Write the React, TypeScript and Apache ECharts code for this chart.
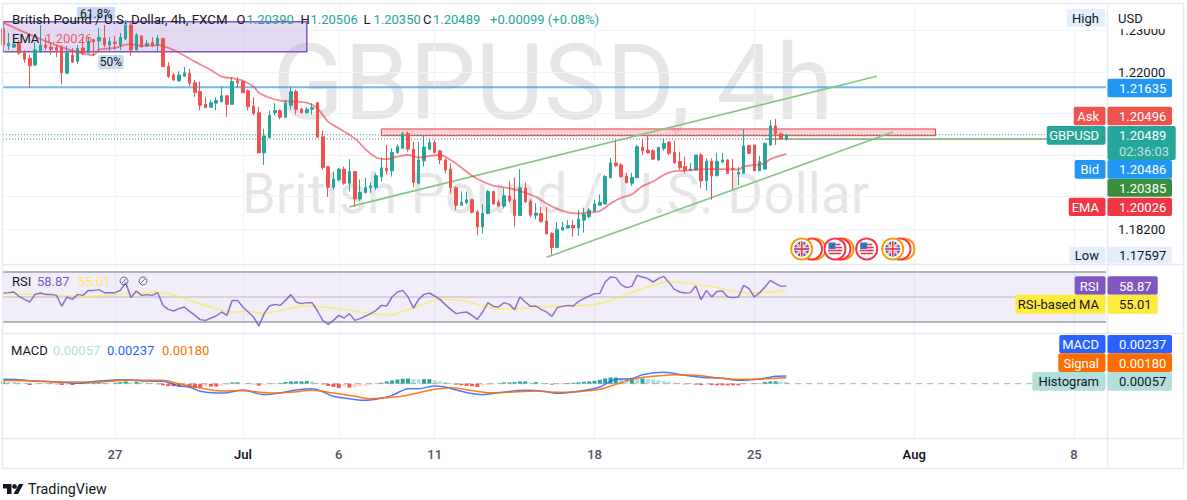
import React, { useEffect, useRef } from "react";
import * as echarts from "echarts";

// ---- data ----
// each candle: [open, close, low, high]
const candles: number[][] = [
[1.2305,1.2265,1.2248,1.2321],[1.2263,1.2269,1.2253,1.2294],[1.2260,1.2267,1.2258,1.2275],[1.2272,1.2246,1.2241,1.2277],
[1.2246,1.2231,1.2222,1.2253],[1.2233,1.2215,1.2161,1.2241],[1.2217,1.2253,1.2214,1.2272],[1.2248,1.2265,1.2246,1.2313],
[1.2265,1.2259,1.2253,1.2284],[1.2260,1.2255,1.2241,1.2272],[1.2259,1.2253,1.2236,1.2265],[1.2258,1.2198,1.2170,1.2265],
[1.2197,1.2246,1.2195,1.2263],[1.2241,1.2224,1.2222,1.2258],[1.2226,1.2257,1.2219,1.2265],[1.2258,1.2246,1.2241,1.2284],
[1.2246,1.2273,1.2246,1.2284],[1.2278,1.2273,1.2239,1.2280],[1.2275,1.2283,1.2248,1.2306],[1.2282,1.2265,1.2260,1.2313],
[1.2265,1.2273,1.2248,1.2284],[1.2272,1.2269,1.2253,1.2287],[1.2265,1.2283,1.2253,1.2294],[1.2280,1.2313,1.2277,1.2325],
[1.2313,1.2253,1.2239,1.2321],[1.2253,1.2289,1.2253,1.2294],[1.2287,1.2261,1.2259,1.2289],[1.2263,1.2269,1.2260,1.2277],
[1.2271,1.2263,1.2260,1.2284],[1.2265,1.2281,1.2248,1.2289],[1.2281,1.2213,1.2212,1.2282],[1.2214,1.2189,1.2186,1.2224],
[1.2193,1.2181,1.2178,1.2198],[1.2179,1.2193,1.2176,1.2202],[1.2190,1.2198,1.2189,1.2212],[1.2197,1.2173,1.2166,1.2207],
[1.2174,1.2151,1.2140,1.2181],[1.2153,1.2120,1.2108,1.2177],[1.2122,1.2114,1.2114,1.2139],[1.2115,1.2126,1.2114,1.2133],
[1.2125,1.2131,1.2108,1.2139],[1.2128,1.2143,1.2128,1.2165],[1.2143,1.2122,1.2092,1.2143],[1.2122,1.2177,1.2122,1.2187],
[1.2179,1.2174,1.2163,1.2187],[1.2177,1.2150,1.2149,1.2179],[1.2155,1.2116,1.2108,1.2158],[1.2118,1.2100,1.2096,1.2139],
[1.2102,1.2005,1.2005,1.2116],[1.2005,1.2046,1.1976,1.2063],[1.2042,1.2095,1.2040,1.2107],[1.2102,1.2107,1.2096,1.2125],
[1.2107,1.2091,1.2086,1.2110],[1.2091,1.2125,1.2091,1.2133],[1.2120,1.2153,1.2110,1.2165],[1.2153,1.2110,1.2098,1.2158],
[1.2111,1.2102,1.2099,1.2114],[1.2102,1.2110,1.2099,1.2116],[1.2110,1.2114,1.2098,1.2125],[1.2126,1.2043,1.2042,1.2128],
[1.2044,1.1970,1.1964,1.2059],[1.1972,1.1922,1.1899,1.1973],[1.1922,1.1942,1.1916,1.1960],[1.1940,1.1966,1.1936,1.1968],
[1.1966,1.1932,1.1928,1.1972],[1.1932,1.1960,1.1912,1.1990],[1.1960,1.1894,1.1875,1.1960],[1.1894,1.1910,1.1889,1.1941],
[1.1909,1.1922,1.1908,1.1945],[1.1921,1.1926,1.1908,1.1934],[1.1922,1.1950,1.1916,1.1956],[1.1948,1.1969,1.1936,1.1994],
[1.1968,1.1962,1.1953,1.2024],[1.1962,1.2006,1.1948,1.2016],[1.2005,1.2020,1.2004,1.2026],[1.2016,1.2052,1.2016,1.2056],
[1.2052,1.2014,1.2008,1.2056],[1.2014,1.1934,1.1922,1.2032],[1.1932,1.1988,1.1929,1.2032],[1.1986,1.2019,1.1972,1.2048],
[1.2014,1.2030,1.2012,1.2040],[1.2030,1.2006,1.2004,1.2036],[1.2010,1.1988,1.1978,1.2012],[1.1988,1.1964,1.1956,1.1992],
[1.1966,1.1921,1.1908,1.1980],[1.1921,1.1879,1.1867,1.1924],[1.1879,1.1886,1.1879,1.1912],[1.1885,1.1892,1.1881,1.1912],
[1.1892,1.1862,1.1859,1.1894],[1.1863,1.1827,1.1807,1.1867],[1.1827,1.1859,1.1811,1.1881],[1.1859,1.1912,1.1857,1.1916],
[1.1912,1.1882,1.1881,1.1914],[1.1886,1.1877,1.1874,1.1892],[1.1877,1.1902,1.1871,1.1920],[1.1901,1.1890,1.1884,1.1937],
[1.1892,1.1854,1.1827,1.1946],[1.1854,1.1921,1.1854,1.1966],[1.1920,1.1887,1.1885,1.1934],[1.1889,1.1855,1.1849,1.1894],
[1.1855,1.1860,1.1845,1.1884],[1.1859,1.1839,1.1838,1.1875],[1.1841,1.1810,1.1809,1.1875],[1.1811,1.1777,1.17597,1.1814],
[1.1777,1.1821,1.1775,1.1838],[1.1819,1.1826,1.1817,1.1839],[1.1824,1.1830,1.1822,1.1843],[1.1830,1.1824,1.1803,1.1843],
[1.1824,1.1845,1.1805,1.1867],[1.1843,1.1857,1.1813,1.1873],[1.1851,1.1867,1.1847,1.1872],[1.1865,1.1882,1.1862,1.1892],
[1.1879,1.1886,1.1879,1.1905],[1.1882,1.1948,1.1881,1.1952],[1.1945,1.1981,1.1944,1.1993],[1.1981,1.1974,1.1972,1.2034],
[1.1976,1.1948,1.1945,1.1981],[1.1949,1.1933,1.1932,1.1957],[1.1932,1.1946,1.1925,1.1957],[1.1945,1.2020,1.1944,1.2024],
[1.2019,1.2010,1.2000,1.2039],[1.2012,1.2005,1.2004,1.2048],[1.2010,1.1990,1.1988,1.2014],[1.1988,1.2018,1.1986,1.2020],
[1.2016,1.2028,1.2010,1.2040],[1.2031,1.2004,1.2000,1.2034],[1.2006,1.1981,1.1980,1.2034],[1.1984,1.1969,1.1964,1.2008],
[1.1972,1.1964,1.1956,1.1996],[1.1963,1.1966,1.1961,1.1981],[1.1964,1.2000,1.1964,1.2000],[1.2000,1.1938,1.1920,1.2005],
[1.1938,1.1985,1.1914,1.1992],[1.1985,1.1950,1.1892,1.1992],[1.1950,1.1985,1.1949,1.2005],[1.1983,1.1988,1.1980,1.2005],
[1.1988,1.1956,1.1954,1.1990],[1.1968,1.1966,1.1917,1.1990],[1.1954,1.1959,1.1927,1.1971],[1.1956,1.2022,1.1956,1.2062],
[1.2023,1.2004,1.2002,1.2024],[1.2024,1.1962,1.1961,1.2024],[1.1962,1.1984,1.1961,1.1998],[1.1966,1.2028,1.1964,1.2030],
[1.2024,1.2070,1.2022,1.2084],[1.2070,1.2051,1.2024,1.2087],[1.2051,1.2039,1.2038,1.2054],[1.2039,1.20489,1.2035,1.20506],
];
const emaPoints: number[][] = [
[0,1.2319],[17,1.2241],[18,1.2254],[21,1.2258],[23,1.2266],[24,1.2267],[26,1.2263],[29,1.2265],[32,1.2253],[36,1.2225],[39,1.2205],
[41,1.2189],[43,1.2185],[45,1.2179],[47,1.2165],[48,1.2150],[50,1.2138],[52,1.2131],[54,1.2129],[57,1.2126],[59,1.2112],[61,1.2080],
[62,1.2072],[66,1.2040],[68,1.2014],[70,1.1994],[72,1.1990],[74,1.1996],[76,1.2000],[78,1.1994],[80,1.1998],[82,1.2000],[84,1.1988],
[86,1.1970],[88,1.1950],[90,1.1936],[92,1.1926],[94,1.1922],[96,1.1917],[98,1.1909],[100,1.1899],[102,1.1883],[104,1.1870],[106,1.1862],
[108,1.1859],[110,1.1861],[112,1.1865],[114,1.1883],[116,1.1897],[118,1.1905],[120,1.1925],[122,1.1936],[124,1.1952],[126,1.1961],
[128,1.1962],[130,1.1965],[132,1.1966],[135,1.1966],[138,1.1965],[139,1.1972],[141,1.1976],[143,1.1980],[144,1.1990],[147,1.20026],
];
const rsiValues = [
53.2,53.5,54,50.5,48.1,46,52.1,53.2,52.1,52.1,51.3,42.8,50,48.1,52.1,51.3,55.3,55.3,55.9,53.5,53.5,53.5,55.3,61.5,49.5,54.8,51.3,51.9,51.3,53.5,
43.3,40.1,38.8,40.7,42,38.5,35.3,31.9,31.3,33.2,34.8,38,35.3,47.3,47.3,42,38,34,26.8,36.7,42.8,44.1,43.3,47.3,51.9,46,44.7,45.5,45.5,38.8,
31.3,28.1,31.3,35.3,33.2,36.7,31.3,32.7,34.8,36.7,39.3,43.3,42.8,50,54,
55.3,50,41.2,48.1,52.1,53.2,50.8,48.1,43.9,40.1,36.7,37.5,38,35.3,32.1,38,45.5,42.5,42,45.5,44.1,39.9,50,46,42.5,42.8,39.9,38,34.5,41.5,
42.5,43.3,42.8,46.5,48.7,50.8,52.7,52.9,62,66,65.5,59.9,57.5,58.5,67.3,66,64.7,62,64.7,66.5,61.5,56.1,54,53.2,53.5,58.8,47.9,55.3,50,54.5,
54.8,50,49.5,50,59.3,56.7,50,53.5,58,63.3,60.7,58.5,58.87,
];
const rsiMaPoints: number[][] = [
[0,52.7],[6,52.1],[11,51.3],[16,50.5],[21,51.9],[26,53.2],[29,54],[33,50.5],[36,46],[40,40.7],[43,38],[46,38.8],[49,36.7],[53,40.1],[57,42.8],
[60,42],[63,40.7],[67,38],[71,35.9],[73,35.9],[75,38.5],[78,42.8],[81,47.3],[84,48.1],[87,46.5],[90,42.8],[93,40.7],[96,40.7],[100,42],[105,42.8],
[111,43.9],[114,47.3],[117,52.1],[121,58],[125,62.5],[130,60.1],[134,57.5],[139,53.5],[142,53.5],[147,55.01],
];
const macdPoints: number[][] = [
[0,0.00134],[3,0.00124],[6,0.00082],[10,0.00052],[14,0.0001],[18,0.00082],[23,0.00124],[27,0.00082],[30,0.00072],[33,-0.00072],[35,-0.00103],
[37,-0.00237],[40,-0.00288],[42,-0.00278],[45,-0.00196],[49,-0.0034],[52,-0.00288],[55,-0.00196],[58,-0.00155],[62,-0.00391],[65,-0.00464],
[68,-0.00515],[70,-0.00484],[73,-0.00361],[75,-0.00206],[76,-0.00155],[78,-0.00155],[81,-0.00072],[83,-0.00103],[86,-0.00237],[90,-0.0034],
[93,-0.00278],[98,-0.00206],[101,-0.00227],[104,-0.00299],[108,-0.00237],[112,-0.00103],[115,0.00134],[118,0.00155],[120,0.00278],[124,0.0035],
[128,0.00258],[131,0.00196],[135,0.00165],[138,0.00103],[142,0.00144],[145,0.00227],[147,0.00237],
];
const signalPoints: number[][] = [
[0,0.00103],[6,0.00082],[12,0.00052],[18,0.00052],[23,0.00103],[30,0.00103],[33,0],[37,-0.00134],[41,-0.00227],[45,-0.00216],[50,-0.00288],
[54,-0.00268],[58,-0.00206],[62,-0.00288],[66,-0.00391],[69,-0.00464],[72,-0.00433],[75,-0.00381],[78,-0.00278],[81,-0.00175],[84,-0.00124],
[87,-0.00185],[91,-0.00278],[96,-0.00258],[100,-0.00227],[104,-0.00268],[108,-0.00247],[112,-0.00175],[115,-0.00021],[118,0.00134],[122,0.00227],
[126,0.00278],[130,0.00258],[134,0.00185],[138,0.00134],[142,0.00144],[147,0.0018],
];
const histValues = [
7,6,5,3,-1,-4,-2,-1,-1,-1,-2,-4,-3,-4,2,3,3,4,4,2,1,3,5,7,5,6,5,3,-1,-2,-5,-7,-8,-9,-7,-12,-12,-12,-8,-9,-9,-6,-3,4,4,1,-1,-2,-6,-3,-1,1,2,5,7,7,7,8,7,3,
-2,-7,-10,-13,-8,-12,-10,-8,-6,-3,1,3,7,10,13,15,16,14,13,14,14,11,8,5,-1,-3,-5,-7,-8,-10,-6,-4,-2,1,4,4,5,7,7,4,5,3,-1,-3,-1,-1,2,3,4,6,7,9,12,16,19,19,17,16,18,16,
16,14,13,11,8,6,3,1,-2,-1,-3,-4,-3,-4,-5,-5,-5,-5,-5,-2,-1,-1,1,5,7,7,6,5.7,
].map((k) => k / 10000);

const askPrice = 1.20496;
const lastPrice = 1.20489;
const prevClose = 1.20385;
const resistance = 1.21635;
const upperTrend: number[][] = [[65, 1.1875], [164, 1.219]];
const lowerTrend: number[][] = [[102, 1.17534], [167, 1.20554]];
const fibBox = [[0, 1.23212], [57, 1.22489]];
const supplyBox = [[71, 1.20627], [175, 1.20465]];
const rsiBands = [70, 50, 30];
const priceTicks = [1.182, 1.19, 1.2, 1.21, 1.22, 1.23];
const priceLabels = [1.182, 1.22, 1.23];
const xTickLabels: Record<number, string> = { 21: "27", 45: "Jul", 63: "6", 81: "11", 111: "18", 141: "25", 171: "Aug", 201: "8" };
const boldTicks = ["Jul", "Aug"];
const header = "British Pound / U.S. Dollar, 4h, FXCM";
const ohlc = [["O", "1.20390"], ["H", "1.20506"], ["L", "1.20350"], ["C", "1.20489"]];
const change = "+0.00099 (+0.08%)";

const LAST = 207;
const FONT = "Roboto, sans-serif";
const UP = "#26a69a";
const DOWN = "#ef5350";
const GRID = "#f0f3fa";
const FRAME = "#e8eaf0";

function txt(x: number, y: number, text: string, fill: string, size = 13, align = "left", z = 60, weight = "normal") {
  return { type: "text", x, y, z, silent: true, style: { text, fill, font: `${weight} ${size}px ${FONT}`, align, verticalAlign: "middle" } };
}
function box(x0: number, x1: number, y0: number, y1: number, fill: string, z = 55) {
  return { type: "rect", z, silent: true, shape: { x: x0, y: y0, width: x1 - x0, height: y1 - y0, r: 2 }, style: { fill } };
}
function tag(name: string | null, nameX0: number, y0: number, y1: number, value: string, valueX1: number, fill: string, textColor: string, valueColor = textColor) {
  const mid = (y0 + y1) / 2;
  const out: any[] = [box(1107.5, valueX1, y0, y1, fill), txt(1119, mid + 0.5, value, valueColor)];
  if (name) out.push(box(nameX0, 1105.5, y0, y1, fill), txt(1099, mid + 0.5, name, textColor, 13, "right"));
  return out;
}
function seg(x1: number, y1: number, x2: number, y2: number, stroke: string, lineWidth: number, z: number) {
  return { type: "line", z, silent: true, shape: { x1, y1, x2, y2 }, style: { stroke, lineWidth } };
}
function ring(cx: number, stroke: string, z: number, cy = 249) {
  return { type: "circle", z, silent: true, shape: { cx, cy, r: 10.5 }, style: { fill: "#fff", stroke, lineWidth: 2 } };
}
function ukFlag(cx: number, z: number, cy = 249) {
  const r = 7.5, d = 5.3;
  return [
    ring(cx, "#ff9800", z),
    { type: "circle", z: z + 1, silent: true, shape: { cx, cy, r }, style: { fill: "#3b5ba5" } },
    seg(cx - d, cy - d, cx + d, cy + d, "#fff", 2.4, z + 2), seg(cx - d, cy + d, cx + d, cy - d, "#fff", 2.4, z + 2),
    seg(cx - d, cy - d, cx + d, cy + d, "#e53950", 0.8, z + 3), seg(cx - d, cy + d, cx + d, cy - d, "#e53950", 0.8, z + 3),
    seg(cx - r, cy, cx + r, cy, "#fff", 3.4, z + 4), seg(cx, cy - r, cx, cy + r, "#fff", 3.4, z + 4),
    seg(cx - r, cy, cx + r, cy, "#e53950", 1.8, z + 5), seg(cx, cy - r, cx, cy + r, "#e53950", 1.8, z + 5),
  ];
}
function usFlag(cx: number, z: number, cy = 249) {
  return [
    ring(cx, "#f23645", z),
    seg(cx - 7, cy + 1.5, cx + 7, cy + 1.5, "#e53950", 1.6, z + 1),
    seg(cx - 6, cy + 4.5, cx + 6, cy + 4.5, "#e53950", 1.6, z + 1),
    seg(cx + 0.5, cy - 1.5, cx + 7, cy - 1.5, "#e53950", 1.6, z + 1),
    seg(cx + 0.5, cy - 4.5, cx + 5.5, cy - 4.5, "#e53950", 1.6, z + 1),
    { type: "rect", z: z + 2, silent: true, shape: { x: cx - 6.5, y: cy - 6.5, width: 7, height: 6.5 }, style: { fill: "#3b6fc4" } },
  ];
}
function slashCircle(cx: number, cy: number, stroke: string) {
  return [
    { type: "circle", z: 60, silent: true, shape: { cx, cy, r: 4 }, style: { fill: "transparent", stroke, lineWidth: 1 } },
    seg(cx - 2.6, cy + 2.6, cx + 2.6, cy - 2.6, stroke, 1, 60),
  ];
}

function buildGraphic() {
  const els: any[] = [
    // watermark
    txt(553, 83, "GBPUSD, 4h", "rgba(120,123,134,0.19)", 105, "center", 0),
    txt(555.5, 194, "British Pound / U.S. Dollar", "rgba(120,123,134,0.19)", 54.7, "center", 0),
    // frame
    { type: "rect", z: 40, silent: true, shape: { x: 2.5, y: 3.5, width: 1181, height: 465 }, style: { fill: "transparent", stroke: FRAME, lineWidth: 1.5 } },
    seg(2.5, 264.5, 1184, 264.5, FRAME, 1.5, 40),
    seg(2.5, 333.5, 1184, 333.5, FRAME, 1.5, 40),
    seg(2.5, 438.5, 1184, 438.5, FRAME, 1.5, 40),
    seg(1107.5, 3.5, 1107.5, 468.5, FRAME, 1.5, 40),
    // mask for the clipped top tick label
    { type: "rect", z: 45, silent: true, shape: { x: 1109, y: 5, width: 73, height: 24 }, style: { fill: "#fff" } },
    // header
    txt(12, 19.5, header, "#131722", 13.4),
    txt(12, 38.5, "EMA", "#131722", 13),
    txt(45, 38.5, "1.20026", "rgba(242,54,69,0.8)", 13),
    box(77, 115, 7, 20, "rgba(160,190,235,0.6)", 50),
    txt(96, 14, "61.8%", "#131722", 12, "center", 51),
    box(98, 124, 55, 69, "rgba(190,208,238,0.75)", 50),
    txt(111, 62, "50%", "#131722", 12, "center", 51),
    // pane legends
    txt(12, 281, "RSI", "#131722", 13),
    txt(37, 281, "58.87", "#7e57c2", 13),
    txt(78, 281, "55.01", "#ffe668", 13),
    ...slashCircle(124, 281, "#6a6d78"),
    ...slashCircle(143, 281, "#6a6d78"),
    txt(11, 350.5, "MACD", "#131722", 13),
    txt(53, 350.5, "0.00057", "#b2dfdb", 13),
    txt(107, 350.5, "0.00237", "#2962ff", 13),
    txt(162, 350.5, "0.00180", "#ff6d00", 13),
    // price scale
    txt(1118, 18, "USD", "#131722", 13, "left", 60),
    box(1067, 1105.5, 9, 27, "#e3effd"),
    txt(1099, 18, "High", "#131722", 13, "right"),
    ...tag(null, 0, 78.7, 97.3, "1.21635", 1172, "#2196f3", "#fff"),
    ...tag("Ask", 1073.7, 106.7, 125.3, "1.20496", 1172, DOWN, "#fff"),
    box(1046.7, 1105.5, 126, 144.7, UP),
    txt(1099, 135.5, "GBPUSD", "#fff", 13, "right"),
    box(1107.5, 1175.7, 126, 160, UP),
    txt(1119, 135.5, "1.20489", "#fff", 13),
    txt(1119, 151, "02:36:03", "rgba(255,255,255,0.7)", 13),
    ...tag("Bid", 1074.7, 160, 178.7, "1.20486", 1172, "#2196f3", "#fff"),
    ...tag(null, 0, 179, 196.7, "1.20385", 1172, "#388e3c", "#fff"),
    ...tag("EMA", 1068.7, 197.7, 216, "1.20026", 1172, "#f23645", "#fff"),
    ...tag("Low", 1069.3, 246.7, 263.3, "1.17597", 1172, "#e3effd", "#131722"),
    ...tag("RSI", 1074.7, 276.3, 294.7, "58.87", 1157.7, "#7e57c2", "#fff"),
    ...tag("RSI-based MA", 1015.3, 294.7, 313.7, "55.01", 1157.7, "#ffeb3b", "#131722"),
    ...tag("MACD", 1059.3, 335, 353.3, "0.00237", 1172, "#2962ff", "#fff"),
    ...tag("Signal", 1058.3, 353.3, 372, "0.00180", 1172, "#ff6d00", "#fff"),
    ...tag("Histogram", 1032.3, 372, 390.7, "0.00057", 1172, "#b2dfdb", "#131722"),
    // event icons
    ring(815, "#ff9800", 20), ring(811.5, "#f23645", 21), ...ukFlag(801.7, 22),
    ring(843, "#ff9800", 20), ring(840, "#f23645", 21), ...usFlag(835, 22),
    ...usFlag(866.7, 30),
    ring(904, "#ff9800", 20), ring(900, "#f23645", 21), ...ukFlag(892.7, 22),
    // TradingView mark
    { type: "polygon", z: 60, silent: true, shape: { points: [[3, 484], [11.5, 484], [11.5, 494], [7, 494], [7, 488.5], [3, 488.5]] }, style: { fill: "#131722" } },
    { type: "circle", z: 60, silent: true, shape: { cx: 14.5, cy: 486.5, r: 2.4 }, style: { fill: "#131722" } },
    { type: "polygon", z: 60, silent: true, shape: { points: [[19, 484], [23.5, 484], [18, 494], [13.5, 494]] }, style: { fill: "#131722" } },
    txt(28, 489, "TradingView", "#131722", 14.3),
  ];
  const offsets = [236.5, 300.5, 363.5, 423];
  ohlc.forEach(([k, v], i) => {
    els.push(txt(offsets[i], 19.5, k, "#131722", 13));
    els.push(txt(offsets[i] + 10, 19.5, v, UP, 13));
  });
  els.push(txt(490, 19.5, change, UP, 13));
  return els;
}

function hline(value: number, from: number, to: number, xAxisIndex: number, yAxisIndex: number, lineStyle: any, extra: any = {}) {
  return {
    type: "line", xAxisIndex, yAxisIndex, symbol: "none", silent: true,
    data: [[from, value], [to, value]], lineStyle, clip: false, ...extra,
  };
}
function curve(data: any[], xAxisIndex: number, yAxisIndex: number, color: string, width: number, opacity = 1, smooth: any = false, z = 3) {
  return {
    type: "line", xAxisIndex, yAxisIndex, symbol: "none", silent: true, smooth, z, clip: false, data,
    lineStyle: { color, width, opacity },
  };
}

export default function App() {
  const ref = useRef<HTMLDivElement>(null);
  useEffect(() => {
    document.body.style.margin = "0";
    const chart = echarts.init(ref.current!, null, { renderer: "svg" });
    const cats = Array.from({ length: LAST + 1 }, (_, i) => xTickLabels[i] ?? String(i));
    const isTick = (i: number) => xTickLabels[i] !== undefined;
    const baseX = {
      type: "category", data: cats, boundaryGap: false,
      axisLine: { show: false }, axisTick: { show: false },
      splitLine: { show: true, interval: (i: number) => isTick(i), lineStyle: { color: GRID, width: 1 } },
    };
    const histColor = (i: number) => {
      const v = histValues[i], p = i > 0 ? histValues[i - 1] : 0;
      if (v >= 0) return v >= p ? UP : "#b2dfdb";
      return v <= p ? "#ff5252" : "#ffcdd2";
    };
    chart.setOption({
      animation: false,
      backgroundColor: "#fff",
      textStyle: { fontFamily: FONT },
      graphic: { elements: buildGraphic() },
      grid: [
        { left: 3.11, top: 4, width: 1102.9, height: 260 },
        { left: 3.11, top: 265, width: 1102.9, height: 68 },
        { left: 3.11, top: 334, width: 1102.9, height: 105 },
      ],
      xAxis: [
        { ...baseX, gridIndex: 0, axisLabel: { show: false } },
        { ...baseX, gridIndex: 1, axisLabel: { show: false } },
        {
          ...baseX, gridIndex: 2,
          axisLabel: {
            show: true, interval: (i: number) => isTick(i), margin: 9, hideOverlap: false,
            formatter: (v: string) => (boldTicks.includes(v) ? `{b|${v}}` : `{n|${v}}`),
            rich: {
              b: { fontFamily: FONT, fontSize: 13, fontWeight: 600, color: "#131722" },
              n: { fontFamily: FONT, fontSize: 13, fontWeight: 500, color: "#50535e" },
            },
          },
        },
      ],
      yAxis: [
        {
          type: "value", gridIndex: 0, position: "right", min: 1.17373, max: 1.23639, scale: true,
          axisLine: { show: false },
          axisTick: { show: false, customValues: priceTicks },
          splitLine: { show: true, lineStyle: { color: GRID, width: 1 } },
          axisLabel: { show: true, customValues: priceLabels, margin: 12, color: "#131722", fontSize: 13, fontFamily: FONT, formatter: (v: number) => v.toFixed(5) },
        },
        { type: "value", gridIndex: 1, min: 21.2, max: 75.6, axisLine: { show: false }, axisTick: { show: false }, axisLabel: { show: false }, splitLine: { show: false } },
        { type: "value", gridIndex: 2, min: -0.0171, max: 0.01536, axisLine: { show: false }, axisTick: { show: false }, axisLabel: { show: false }, splitLine: { show: false } },
      ],
      series: [
        hline(resistance, 0, LAST, 0, 0, { color: "#2196f3", width: 2, opacity: 0.65 }, {
          markArea: {
            silent: true,
            data: [
              [{ coord: fibBox[0], itemStyle: { color: "rgba(126,87,194,0.22)", borderColor: "#7e57c2", borderWidth: 1.5 } }, { coord: fibBox[1] }],
              [{ coord: supplyBox[0], itemStyle: { color: "rgba(242,54,69,0.22)", borderColor: "#f23645", borderWidth: 1 } }, { coord: supplyBox[1] }],
            ],
          },
        }),
        hline(lastPrice, 0, LAST, 0, 0, { color: UP, width: 1, type: [1, 2] }),
        hline(prevClose, 0, 143, 0, 0, { color: "#5d606b", width: 1, type: [1, 2] }),
        hline(prevClose, 143, LAST, 0, 0, { color: "#2e7d32", width: 1 }),
        curve(upperTrend, 0, 0, "#81c784", 1.6),
        curve(lowerTrend, 0, 0, "#81c784", 1.6),
        {
          type: "candlestick", xAxisIndex: 0, yAxisIndex: 0, barWidth: 3, clip: false, z: 4, silent: true,
          data: candles,
          itemStyle: { color: UP, color0: DOWN, borderColor: UP, borderColor0: DOWN, borderWidth: 1 },
        },
        curve(emaPoints, 0, 0, "#f23645", 1.8, 0.6, 0.25, 5),
        ...rsiBands.map((b, i) => hline(b, 0, LAST, 1, 1, { color: i === 1 ? "#b7b5c4" : "#9d9ea8", width: i === 1 ? 1.2 : 1.6 }, i === 0 ? {
          markArea: {
            silent: true,
            data: [[{ coord: [0, rsiBands[0]], itemStyle: { color: "rgba(126,87,194,0.1)" } }, { coord: [LAST, rsiBands[2]] }]],
          },
        } : {})),
        curve(rsiMaPoints, 1, 1, "#ffeb3b", 1.5, 0.7, 0.3, 4),
        curve(rsiValues.map((v, i) => [i, v]), 1, 1, "#7e57c2", 1.5, 0.85, false, 5),
        hline(0, 0, LAST, 2, 2, { color: "#9598a1", width: 1, type: [6, 5], opacity: 0.8 }),
        {
          type: "bar", xAxisIndex: 2, yAxisIndex: 2, barWidth: 4, silent: true, z: 3,
          data: histValues.map((v, i) => ({ value: v, itemStyle: { color: histColor(i) } })),
        },
        curve(macdPoints, 2, 2, "#2962ff", 1.5, 0.85, 0.3, 4),
        curve(signalPoints, 2, 2, "#ff6d00", 1.5, 0.9, 0.3, 5),
      ],
    });
    return () => chart.dispose();
  }, []);
  return <div ref={ref} style={{ width: 1187, height: 500 }} />;
}
